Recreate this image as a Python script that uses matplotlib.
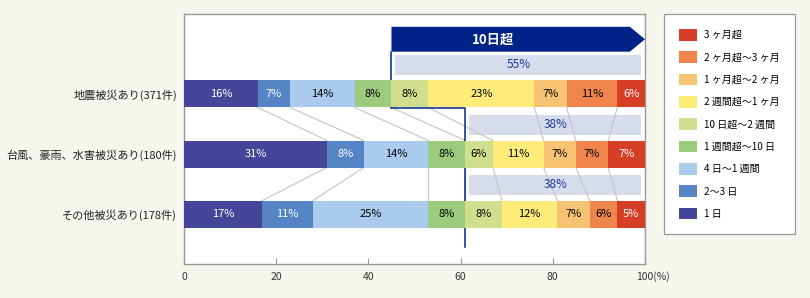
import numpy as np
import matplotlib.pyplot as plt
from matplotlib.patches import Rectangle, Polygon, Patch
import matplotlib.transforms as mtransforms

plt.rcParams['font.family'] = ['Noto Sans CJK JP', 'DejaVu Sans']

rows = ['地震被災あり(371件)', '台風、豪雨、水害被災あり(180件)', 'その他被災あり(178件)']
periods = ['1 日', '2〜3 日', '4 日〜1 週間', '1 週間超〜10 日', '10 日超〜2 週間',
           '2 週間超〜1 ヶ月', '1 ヶ月超〜2 ヶ月', '2 ヶ月超〜3 ヶ月', '3 ヶ月超']
colors = ['#45469a', '#5585c5', '#aacbed', '#9ccb7e', '#cfdf8e',
          '#feec7a', '#f6c372', '#ef854b', '#d63f26']

# bar widths
quake = [16, 7, 14, 8, 8, 23, 7, 11, 6]
storm = [31, 8, 14, 8, 6, 11, 7, 7, 8]
other = [17, 11, 25, 8, 8, 12, 7, 6, 6]
# printed labels (%)
quake_lbl = [16, 7, 14, 8, 8, 23, 7, 11, 6]
storm_lbl = [31, 8, 14, 8, 6, 11, 7, 7, 7]
other_lbl = [17, 11, 25, 8, 8, 12, 7, 6, 5]
over10 = [55, 38, 38]

widths = [quake, storm, other]
labels = [quake_lbl, storm_lbl, other_lbl]

navy = '#00238a'
bg = '#f6f5ee'
h = 0.45
num_font = ['Liberation Sans Narrow', 'Noto Sans CJK JP']

fig = plt.figure(figsize=(8.1, 2.98), dpi=100)
fig.patch.set_facecolor(bg)
ax = fig.add_axes([0.2272, 0.1141, 0.5691, 0.8389])
ax.set_facecolor('white')

for i, (w, lb) in enumerate(zip(widths, labels)):
    left = np.concatenate([[0], np.cumsum(w)[:-1]])
    ax.barh(i, w, left=left, height=h, color=colors, linewidth=0, zorder=3)
    for k in range(len(w)):
        tc = 'white' if k in (0, 1, 8) else 'black'
        ax.text(left[k] + w[k] / 2, i, f'{lb[k]}%', ha='center', va='center',
                fontsize=8, color=tc, zorder=4, family=num_font)

# connector lines between rows
for i in range(len(widths) - 1):
    b0 = np.cumsum(widths[i])[:-1]
    b1 = np.cumsum(widths[i + 1])[:-1]
    for x0, x1 in zip(b0, b1):
        ax.plot([x0, x1], [i + h / 2, i + 1 - h / 2], color='#c4c4c8', lw=0.8, zorder=2)

# "10日超" share boxes
for i, s in enumerate(over10):
    start = np.cumsum(widths[i])[3]
    ax.add_patch(Rectangle((start + 0.8, i - 0.49 - 0.167), 99.2 - start - 0.8, 0.333,
                           facecolor='#d6dcec', edgecolor='none', zorder=1.5))
    ax.text((start + 0.8 + 99.2) / 2, i - 0.49, f'{s}%', ha='center', va='center',
            fontsize=8.5, color='#1d3a9c', zorder=4, family=num_font)

# arrow header
c0 = np.cumsum(widths[0])[3]
c1 = np.cumsum(widths[1])[3]
top, bot = -1.12, -0.705
ax.add_patch(Polygon([[c0, top], [96.7, top], [100, (top + bot) / 2], [96.7, bot], [c0, bot]],
                     closed=True, facecolor=navy, edgecolor='none', zorder=5, clip_on=False))
ax.text(c0 + 22, (top + bot) / 2, '10日超', ha='center', va='center',
        fontsize=9.5, color='white', fontweight='bold', zorder=6)
ax.plot([c0, c0, c1, c1], [bot, h / 2 + 0.015, h / 2 + 0.015, 2.55],
        color=navy, lw=1.1, zorder=2.5)

ax.set_xlim(0, 100)
ax.set_ylim(2.833, -1.333)
ax.set_yticks(range(len(rows)))
ax.set_yticklabels(rows, fontsize=8.0, color='#222222')
ax.tick_params(axis='y', length=0, pad=5)
ax.set_xticks([0, 20, 40, 60, 80, 100])
ax.set_xticklabels(['0', '20', '40', '60', '80', '100(%)'])
ax.tick_params(axis='x', direction='in', length=4, color='#999999', labelsize=7.5,
               labelcolor='#333333', pad=6)
last = ax.get_xticklabels()[-1]
last.set_ha('left')
last.set_transform(last.get_transform() + mtransforms.ScaledTranslation(-9 / 100, 1 / 100, fig.dpi_scale_trans))
for sp in ax.spines.values():
    sp.set_color('#999999')
    sp.set_linewidth(1)

handles = [Patch(facecolor=c, edgecolor='none') for c in colors][::-1]
leg = fig.legend(handles, periods[::-1], loc='upper left',
                 bbox_to_anchor=(664 / 810, 1 - 14 / 298), fontsize=7.2,
                 handlelength=1.8, handleheight=1.4, handletextpad=0.7,
                 labelspacing=1.08, borderpad=1.5, borderaxespad=0,
                 fancybox=False, framealpha=1, edgecolor='#999999')
leg.get_frame().set_linewidth(0.9)

fig.savefig('out.png', dpi=100, facecolor=bg)
